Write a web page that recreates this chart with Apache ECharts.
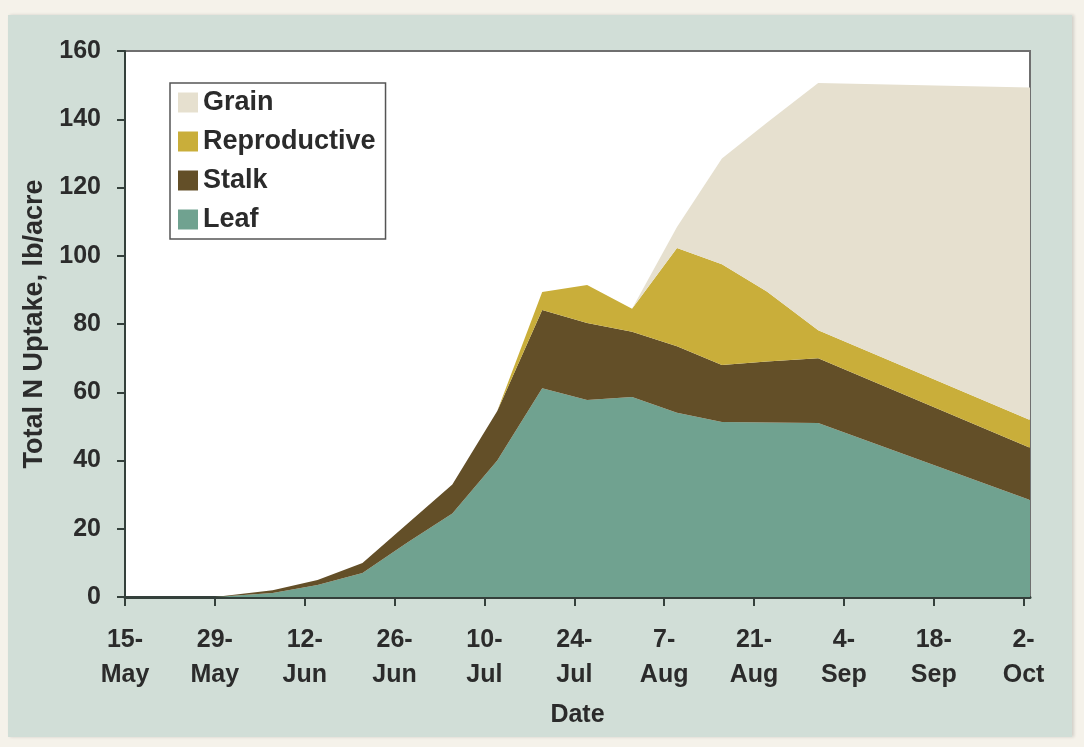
<!DOCTYPE html>
<html>
<head>
<meta charset="utf-8">
<title>Total N Uptake</title>
<script src="https://cdn.jsdelivr.net/npm/echarts@6/dist/echarts.min.js"></script>
<style>
  html, body { margin: 0; padding: 0; background: #f5f2ea; }
  #chart { width: 1084px; height: 747px; }
</style>
</head>
<body>
<div id="chart"></div>
<script>
// sampling dates and N uptake per plant part, lb/acre
const startDate = '2010-05-15'
const sampleDates = [
  '2010-05-29', '2010-06-07', '2010-06-14', '2010-06-21', '2010-06-28',
  '2010-07-05', '2010-07-12', '2010-07-19', '2010-07-26', '2010-08-02',
  '2010-08-09', '2010-08-16', '2010-08-23', '2010-08-31', '2010-10-03'
]
const leaf = [0, 1.2, 3.5, 7, 16, 24.5, 40, 61.2, 57.7, 58.6, 54, 51.3, 51.1, 51, 28.4]
const stalk = [0, 0.8, 1.5, 3, 5.5, 8.5, 14.5, 22.9, 22.6, 19.1, 19.5, 16.7, 17.9, 19, 15.3]
const reproductive = [0, 0, 0, 0, 0, 0, 0, 5.3, 11.1, 6.8, 28.8, 29.5, 20.5, 8.2, 8.2]
const grain = [0, 0, 0, 0, 0, 0, 0, 0, 0, 0, 6.1, 31, 49.5, 72.4, 97.4]
const xTickLabels = ['15-May', '29-May', '12-Jun', '26-Jun', '10-Jul', '24-Jul',
  '7-Aug', '21-Aug', '4-Sep', '18-Sep', '2-Oct']
const yTicks = [0, 20, 40, 60, 80, 100, 120, 140, 160]

const DAY = 24 * 3600 * 1000
function dayOf(d) {
  return Math.round((Date.parse(d) - Date.parse(startDate)) / DAY)
}
const days = sampleDates.map(dayOf)
const tickStep = 14
const tickDays = xTickLabels.map((l, i) => i * tickStep)

// value first so that the stack runs on the y values (x is a plain value axis)
function pairs(values) {
  return values.map((v, i) => [v, days[i]])
}

const textColor = '#2b2b2b'
const font = 'Liberation Sans, Arial, sans-serif'

const chart = echarts.init(document.getElementById('chart'))

const colors = {
  Leaf: '#70a290',
  Stalk: '#634f28',
  Reproductive: '#c9ae3a',
  Grain: '#e6e0cf',
}

function areaSeries(name, values) {
  return {
    name: name,
    type: 'line',
    stack: 'n',
    data: pairs(values),
    encode: { x: 1, y: 0 },
    showSymbol: false,
    symbol: 'none',
    lineStyle: { width: 0 },
    itemStyle: { color: colors[name] },
    areaStyle: { color: colors[name], opacity: 1 },
  }
}

const options = {
  backgroundColor: '#f5f2ea',
  animation: false,
  textStyle: { fontFamily: font },
  graphic: [
    {
      type: 'rect',
      left: 8,
      top: 15,
      z: -10,
      shape: { width: 1064, height: 722 },
      style: { fill: '#d1ded7', shadowColor: 'rgba(0,0,0,0.15)', shadowBlur: 3, shadowOffsetX: 2 },
    },
  ],
  grid: {
    left: 125,
    right: 54,
    top: 51,
    bottom: 150,
    show: true,
    backgroundColor: '#fff',
    borderColor: '#6f6f6f',
    borderWidth: 2,
  },
  legend: {
    orient: 'vertical',
    left: 170,
    top: 83,
    data: ['Grain', 'Reproductive', 'Stalk', 'Leaf'],
    icon: 'rect',
    itemWidth: 20,
    itemHeight: 20,
    itemGap: 12,
    padding: [6, 10, 6, 8],
    backgroundColor: '#fff',
    borderColor: '#555',
    borderWidth: 1.5,
    borderRadius: 0,
    textStyle: {
      color: textColor,
      fontSize: 27,
      fontWeight: 'bold',
      fontFamily: font,
    },
  },
  xAxis: {
    type: 'value',
    min: 0,
    max: days[days.length - 1],
    interval: tickStep,
    name: 'Date',
    nameLocation: 'middle',
    nameGap: 106,
    nameTextStyle: { color: textColor, fontSize: 25, fontWeight: 'bold' },
    splitLine: { show: false },
    axisLine: { lineStyle: { color: '#34403b', width: 3 } },
    axisTick: {
      show: true,
      length: 9,
      customValues: tickDays,
      lineStyle: { color: '#34403b', width: 2 },
    },
    axisLabel: {
      customValues: tickDays,
      color: textColor,
      fontSize: 25,
      fontWeight: 'bold',
      lineHeight: 35,
      margin: 26,
      formatter: function (v) {
        const l = xTickLabels[Math.round(v / tickStep)]
        return l ? l.replace('-', '-\n') : ''
      },
    },
  },
  yAxis: {
    type: 'value',
    min: yTicks[0],
    max: yTicks[yTicks.length - 1],
    interval: yTicks[1] - yTicks[0],
    name: 'Total N Uptake, lb/acre',
    nameLocation: 'middle',
    nameGap: 72,
    nameTextStyle: { color: textColor, fontSize: 27, fontWeight: 'bold' },
    splitLine: { show: false },
    axisLine: { show: true, lineStyle: { color: '#34403b', width: 2 } },
    axisTick: { show: true, length: 8, lineStyle: { color: '#34403b', width: 2 } },
    axisLabel: {
      color: textColor,
      fontSize: 25,
      fontWeight: 'bold',
      margin: 24,
    },
  },
  series: [
    areaSeries('Leaf', leaf),
    areaSeries('Stalk', stalk),
    areaSeries('Reproductive', reproductive),
    areaSeries('Grain', grain),
  ],
}

chart.setOption(options)
</script>
</body>
</html>
